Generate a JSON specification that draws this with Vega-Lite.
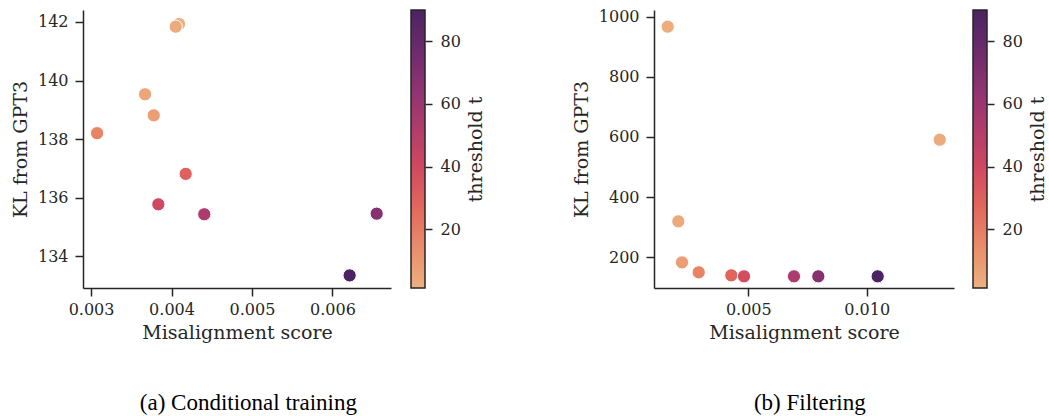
{
  "$schema": "https://vega.github.io/schema/vega-lite/v6.json",
  "padding": {"left": 11, "top": 8, "right": 0, "bottom": 0},
  "spacing": 86,
  "datasets": {
    "cond": [
      {"misalignment": 0.004093, "kl": 141.93, "threshold": 1.2},
      {"misalignment": 0.004052, "kl": 141.84, "threshold": 3},
      {"misalignment": 0.003671, "kl": 139.53, "threshold": 5},
      {"misalignment": 0.003779, "kl": 138.81, "threshold": 8},
      {"misalignment": 0.003075, "kl": 138.20, "threshold": 17},
      {"misalignment": 0.004176, "kl": 136.81, "threshold": 30},
      {"misalignment": 0.003836, "kl": 135.77, "threshold": 40},
      {"misalignment": 0.004407, "kl": 135.43, "threshold": 53},
      {"misalignment": 0.006549, "kl": 135.45, "threshold": 68},
      {"misalignment": 0.006213, "kl": 133.34, "threshold": 90}
    ],
    "filt": [
      {"misalignment": 0.001596, "kl": 967.7, "threshold": 2},
      {"misalignment": 0.013083, "kl": 591, "threshold": 3},
      {"misalignment": 0.002044, "kl": 319, "threshold": 4},
      {"misalignment": 0.0022, "kl": 182, "threshold": 8},
      {"misalignment": 0.002905, "kl": 149, "threshold": 17},
      {"misalignment": 0.004282, "kl": 139, "threshold": 28},
      {"misalignment": 0.004818, "kl": 135.6, "threshold": 38},
      {"misalignment": 0.006929, "kl": 135.6, "threshold": 53},
      {"misalignment": 0.007956, "kl": 135.6, "threshold": 68},
      {"misalignment": 0.010464, "kl": 135.6, "threshold": 90}
    ],
    "bar": [{"lo": 1.2, "hi": 90}]
  },
  "resolve": {"scale": {"x": "independent", "y": "independent", "color": "independent"}},
  "hconcat": [
    {
      "spacing": 19,
      "title": {"text": "(a) Conditional training", "orient": "bottom", "frame": "bounds", "anchor": "middle", "offset": 50},
      "resolve": {"scale": {"x": "independent", "y": "independent", "color": "independent"}},
      "hconcat": [
        {
          "width": 308,
          "height": 278,
          "data": {"name": "cond"},
          "mark": {"type": "point", "filled": true, "size": 175, "stroke": "white", "strokeWidth": 1, "opacity": 1, "strokeOpacity": 1},
          "encoding": {
            "x": {"field": "misalignment", "type": "quantitative", "title": "Misalignment score",
              "scale": {"domain": [0.0029, 0.006727], "nice": false, "zero": false},
              "axis": {"values": [0.003, 0.004, 0.005, 0.006], "format": ".3f"}},
            "y": {"field": "kl", "type": "quantitative", "title": "KL from GPT3",
              "scale": {"domain": [132.91, 142.41], "nice": false, "zero": false},
              "axis": {"values": [134, 136, 138, 140, 142], "format": "d"}},
            "color": {"field": "threshold", "type": "quantitative", "legend": null,
              "scale": {"domain": [1.2, 13.886, 26.571, 39.257, 51.943, 64.629, 77.314, 90],
                "range": ["#edb081", "#e98d6b", "#e3685c", "#d14a61", "#b13c6c", "#8f3371", "#6c2b6d", "#4b2362"]}}
          }
        },
        {
          "width": 14,
          "height": 278,
          "data": {"name": "bar"},
          "mark": {"type": "rect", "stroke": "#262626", "strokeWidth": 1.5,
            "color": {"gradient": "linear", "x1": 0, "y1": 1, "x2": 0, "y2": 0,
              "stops": [
                {"offset": 0, "color": "#edb081"},
                {"offset": 0.142857, "color": "#e98d6b"},
                {"offset": 0.285714, "color": "#e3685c"},
                {"offset": 0.428571, "color": "#d14a61"},
                {"offset": 0.571429, "color": "#b13c6c"},
                {"offset": 0.714286, "color": "#8f3371"},
                {"offset": 0.857143, "color": "#6c2b6d"},
                {"offset": 1, "color": "#4b2362"}
              ]}},
          "encoding": {
            "y": {"field": "lo", "type": "quantitative",
              "scale": {"domain": [1.2, 90], "nice": false, "zero": false},
              "axis": {"orient": "right", "values": [20, 40, 60, 80], "title": "threshold t", "titleAngle": 270, "titleBaseline": "top",
                "tickSize": 7, "labelPadding": 8, "domain": false, "titlePadding": 6}},
            "y2": {"field": "hi"}
          }
        }
      ]
    },
    {
      "spacing": 18,
      "title": {"text": "(b) Filtering", "orient": "bottom", "frame": "bounds", "anchor": "middle", "offset": 50},
      "resolve": {"scale": {"x": "independent", "y": "independent", "color": "independent"}},
      "hconcat": [
        {
          "width": 300,
          "height": 278,
          "data": {"name": "filt"},
          "mark": {"type": "point", "filled": true, "size": 175, "stroke": "white", "strokeWidth": 1, "opacity": 1, "strokeOpacity": 1},
          "encoding": {
            "x": {"field": "misalignment", "type": "quantitative", "title": "Misalignment score",
              "scale": {"domain": [0.001017, 0.013687], "nice": false, "zero": false},
              "axis": {"values": [0.005, 0.01], "format": ".3f"}},
            "y": {"field": "kl", "type": "quantitative", "title": "KL from GPT3",
              "scale": {"domain": [96.7, 1023.3], "nice": false, "zero": false},
              "axis": {"values": [200, 400, 600, 800, 1000], "format": "d"}},
            "color": {"field": "threshold", "type": "quantitative", "legend": null,
              "scale": {"domain": [1.2, 13.886, 26.571, 39.257, 51.943, 64.629, 77.314, 90],
                "range": ["#edb081", "#e98d6b", "#e3685c", "#d14a61", "#b13c6c", "#8f3371", "#6c2b6d", "#4b2362"]}}
          }
        },
        {
          "width": 14,
          "height": 278,
          "data": {"name": "bar"},
          "mark": {"type": "rect", "stroke": "#262626", "strokeWidth": 1.5,
            "color": {"gradient": "linear", "x1": 0, "y1": 1, "x2": 0, "y2": 0,
              "stops": [
                {"offset": 0, "color": "#edb081"},
                {"offset": 0.142857, "color": "#e98d6b"},
                {"offset": 0.285714, "color": "#e3685c"},
                {"offset": 0.428571, "color": "#d14a61"},
                {"offset": 0.571429, "color": "#b13c6c"},
                {"offset": 0.714286, "color": "#8f3371"},
                {"offset": 0.857143, "color": "#6c2b6d"},
                {"offset": 1, "color": "#4b2362"}
              ]}},
          "encoding": {
            "y": {"field": "lo", "type": "quantitative",
              "scale": {"domain": [1.2, 90], "nice": false, "zero": false},
              "axis": {"orient": "right", "values": [20, 40, 60, 80], "title": "threshold t", "titleAngle": 270, "titleBaseline": "top",
                "tickSize": 7, "labelPadding": 8, "domain": false, "titlePadding": 6}},
            "y2": {"field": "hi"}
          }
        }
      ]
    }
  ],
  "config": {
    "view": {"stroke": null},
    "axis": {
      "grid": false,
      "domainColor": "#262626", "domainWidth": 1.5,
      "tickColor": "#262626", "tickWidth": 1.5, "tickSize": 8,
      "labelFont": "DejaVu Serif", "labelFontSize": 16, "labelColor": "#262626", "labelPadding": 7,
      "titleFont": "DejaVu Serif", "titleFontSize": 19, "titleFontWeight": "normal", "titleColor": "#262626", "titlePadding": 7
    },
    "axisX": {"labelPadding": 5, "titlePadding": 6},
    "title": {"font": "Liberation Serif", "fontSize": 23, "fontWeight": "normal", "color": "#000000"}
  }
}
